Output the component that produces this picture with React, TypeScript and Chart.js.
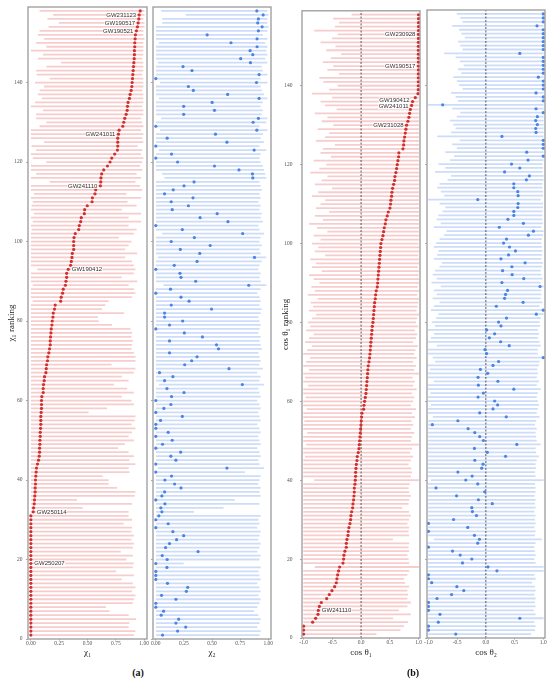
import { useEffect, useRef } from "react";
import { Chart, registerables } from "chart.js";

Chart.register(...registerables);

const SERIF = "'Liberation Serif', 'DejaVu Serif', serif";
const SANS = "'Liberation Sans', 'DejaVu Sans', sans-serif";

// ---------- data ----------
const N_EVENTS = 158;
const RANKS = Array.from({ length: N_EVENTS }, (_, i) => i + 1);
const Y_TICKS = [0, 20, 40, 60, 80, 100, 120, 140];
const CHI_TICKS = [0, 0.25, 0.5, 0.75, 1];
const COS_TICKS = [-1, -0.5, 0, 0.5, 1];

// panel (a): ranked by chi1
const CHI1 = [
  0, 0, 0, 0, 0, 0, 0, 0, 0, 0,
  0, 0, 0, 0, 0, 0, 0, 0, 0, 0,
  0, 0, 0, 0, 0, 0, 0, 0, 0, 0,
  0, 0.021, 0.024, 0.030, 0.032, 0.035, 0.038, 0.038, 0.041, 0.041,
  0.044, 0.047, 0.050, 0.059, 0.068, 0.074, 0.077, 0.077, 0.080, 0.080,
  0.083, 0.083, 0.086, 0.088, 0.088, 0.088, 0.091, 0.094, 0.094, 0.094,
  0.097, 0.109, 0.109, 0.112, 0.118, 0.121, 0.133, 0.136, 0.139, 0.147,
  0.150, 0.159, 0.165, 0.171, 0.171, 0.174, 0.177, 0.180, 0.186, 0.189,
  0.195, 0.198, 0.209, 0.215, 0.263, 0.268, 0.280, 0.286, 0.305, 0.310,
  0.316, 0.316, 0.330, 0.351, 0.357, 0.363, 0.366, 0.378, 0.378, 0.378,
  0.381, 0.392, 0.422, 0.428, 0.440, 0.445, 0.472, 0.475, 0.498, 0.540,
  0.543, 0.566, 0.572, 0.614, 0.617, 0.619, 0.625, 0.643, 0.676, 0.699,
  0.714, 0.740, 0.764, 0.767, 0.767, 0.767, 0.773, 0.779, 0.811, 0.820,
  0.829, 0.841, 0.850, 0.853, 0.858, 0.870, 0.876, 0.885, 0.891, 0.894,
  0.897, 0.900, 0.903, 0.906, 0.909, 0.912, 0.914, 0.914, 0.917, 0.917,
  0.920, 0.923, 0.932, 0.941, 0.947, 0.953, 0.956, 0.965,
];
const CHI1_LO = [
  0, 0, 0, 0, 0, 0, 0, 0, 0, 0,
  0, 0, 0, 0, 0, 0, 0, 0, 0, 0,
  0, 0, 0, 0, 0, 0, 0, 0, 0, 0,
  0, 0, 0, 0, 0, 0, 0, 0, 0, 0,
  0, 0, 0, 0, 0, 0, 0, 0, 0, 0,
  0, 0, 0, 0, 0, 0, 0, 0, 0, 0,
  0, 0, 0, 0, 0, 0, 0, 0, 0, 0,
  0, 0, 0, 0, 0, 0, 0, 0, 0, 0,
  0, 0, 0, 0, 0.02, 0, 0, 0, 0.02, 0,
  0, 0, 0.06, 0, 0, 0, 0, 0, 0, 0,
  0, 0, 0.01, 0, 0.02, 0, 0.03, 0, 0.01, 0.02,
  0, 0.03, 0, 0, 0.17, 0, 0.05, 0, 0, 0.14,
  0.02, 0, 0.05, 0.01, 0.12, 0, 0, 0, 0.08, 0.14,
  0.05, 0.05, 0.11, 0, 0.04, 0.10, 0.065, 0.08, 0.12, 0.04,
  0.17, 0.055, 0.05, 0.14, 0.27, 0.065, 0.11, 0, 0.14, 0.05,
  0.12, 0.065, 0.08, 0.16, 0.25, 0.15, 0.20, 0.08,
];
const CHI1_HI = [
  0.906, 0.92, 0.86, 0.867, 0.926, 0.86, 0.69, 0.66, 0.897, 0.906,
  0.92, 0.89, 0.92, 0.897, 0.80, 0.906, 0.75, 0.897, 0.906, 0.84,
  0.897, 0.79, 0.897, 0.906, 0.885, 0.906, 0.885, 0.89, 0.817, 0.89,
  0.86, 0.86, 0.454, 0.89, 0.404, 0.914, 0.92, 0.758, 0.684, 0.684,
  0.63, 0.867, 0.86, 0.92, 0.867, 0.906, 0.86, 0.767, 0.826, 0.906,
  0.86, 0.89, 0.92, 0.885, 0.914, 0.92, 0.507, 0.67, 0.906, 0.885,
  0.80, 0.906, 0.847, 0.73, 0.86, 0.80, 0.906, 0.92, 0.71, 0.92,
  0.92, 0.906, 0.885, 0.89, 0.897, 0.885, 0.89, 0.876, 0.714, 0.596,
  0.59, 0.82, 0.625, 0.655, 0.684, 0.89, 0.92, 0.906, 0.86, 0.935,
  0.80, 0.906, 0.92, 0.906, 0.89, 0.83, 0.935, 0.83, 0.86, 0.885,
  0.773, 0.906, 0.93, 0.86, 0.97, 0.86, 0.97, 0.80, 0.93, 0.85,
  0.97, 0.84, 0.98, 0.96, 0.92, 0.97, 0.93, 0.98, 0.96, 0.98,
  0.99, 0.97, 0.98, 0.94, 0.99, 0.98, 0.99, 0.97, 0.99, 0.98,
  0.97, 0.99, 0.99, 0.98, 0.99, 0.99, 0.99, 0.98, 0.99, 0.99,
  0.99, 0.98, 0.99, 0.99, 0.99, 0.98, 0.99, 0.99, 0.99, 0.99,
  1.0, 0.99, 0.99, 1.0, 1.0, 0.99, 1.0, 1.0,
];
const CHI2 = [
  0.060, 0.194, 0.266, 0.179, 0.203, 0.048, 0.069, 0, 0, 0.179,
  0.051, 0.272, 0.284, 0.104, 0, 0, 0, 0.099, 0, 0.101,
  0.057, 0.376, 0.087, 0.122, 0.185, 0.248, 0.152, 0, 0.110, 0,
  0.027, 0.054, 0.045, 0.081, 0, 0.054, 0.078, 0.224, 0.167, 0.081,
  0.140, 0, 0.633, 0, 0.179, 0.134, 0.221, 0, 0.060, 0.146,
  0, 0.110, 0, 0, 0.042, 0.236, 0, 0.072, 0.134, 0,
  0.140, 0.251, 0.099, 0.770, 0.078, 0.152, 0.033, 0.651, 0.257, 0.319,
  0.367, 0.122, 0.558, 0.540, 0.122, 0.415, 0.254, 0, 0.122, 0.239,
  0.078, 0.078, 0.496, 0.137, 0.296, 0.224, 0, 0.131, 0.827, 0.355,
  0.224, 0.215, 0, 0.164, 0.367, 0.878, 0.391, 0.218, 0.484, 0.137,
  0.343, 0.773, 0.236, 0, 0.642, 0.394, 0.546, 0.146, 0.290, 0.137,
  0.331, 0.078, 0.155, 0.251, 0.340, 0.863, 0.860, 0.740, 0.522, 0.194,
  0, 0.140, 0.875, 0, 0.633, 0.101, 0.531, 0.899, 0, 0.866,
  0.913, 0.248, 0.522, 0.248, 0.501, 0.919, 0.639, 0.334, 0.290, 0.896,
  0, 0.919, 0.322, 0.242, 0.842, 0.755, 0.863, 0.839, 0.901, 0.669,
  0.901, 0.457, 0.913, 0.946, 0.907, 0.913, 0.955, 0.899,
];
const CHI2_LO = [
  0, 0, 0, 0, 0, 0, 0, 0, 0, 0,
  0, 0, 0, 0, 0, 0, 0, 0, 0, 0,
  0, 0, 0, 0, 0, 0, 0, 0, 0, 0,
  0, 0, 0, 0, 0, 0, 0, 0, 0, 0,
  0, 0, 0.02, 0, 0, 0, 0, 0, 0, 0,
  0, 0, 0, 0, 0, 0, 0, 0, 0, 0,
  0, 0, 0, 0.03, 0, 0, 0, 0, 0, 0,
  0, 0, 0, 0, 0, 0, 0, 0, 0, 0,
  0, 0, 0, 0, 0, 0, 0, 0, 0.07, 0,
  0, 0, 0, 0, 0, 0.02, 0, 0, 0, 0,
  0, 0.06, 0, 0, 0, 0, 0, 0, 0, 0,
  0, 0, 0, 0, 0, 0.08, 0.06, 0, 0, 0,
  0, 0, 0.03, 0, 0, 0, 0, 0.04, 0, 0,
  0.05, 0, 0, 0, 0, 0.03, 0, 0, 0, 0.04,
  0, 0, 0, 0, 0.02, 0, 0, 0, 0, 0.03,
  0, 0, 0, 0, 0.06, 0.06, 0.27, 0.05,
];
const CHI2_HI = [
  0.92, 0.93, 0.90, 0.92, 0.93, 0.91, 0.87, 0.90, 0.92, 0.93,
  0.91, 0.93, 0.92, 0.90, 0.93, 0.92, 0.91, 0.93, 0.245, 0.92,
  0.93, 0.90, 0.92, 0.93, 0.91, 0.92, 0.93, 0.90, 0.92, 0.91,
  0.93, 0.336, 0.60, 0.92, 0.70, 0.93, 0.92, 0.93, 0.91, 0.92,
  0.93, 0.79, 0.96, 0.92, 0.91, 0.93, 0.92, 0.90, 0.93, 0.92,
  0.91, 0.93, 0.92, 0.90, 0.93, 0.92, 0.91, 0.93, 0.92, 0.90,
  0.93, 0.92, 0.91, 0.96, 0.92, 0.93, 0.90, 0.95, 0.92, 0.93,
  0.92, 0.91, 0.94, 0.93, 0.92, 0.93, 0.91, 0.92, 0.93, 0.92,
  0.91, 0.93, 0.94, 0.92, 0.93, 0.92, 0.90, 0.93, 0.98, 0.93,
  0.92, 0.93, 0.91, 0.92, 0.94, 0.98, 0.93, 0.92, 0.94, 0.92,
  0.93, 0.96, 0.92, 0.91, 0.95, 0.93, 0.94, 0.92, 0.93, 0.91,
  0.93, 0.92, 0.94, 0.93, 0.92, 0.98, 0.97, 0.96, 0.95, 0.93,
  0.92, 0.93, 0.98, 0.92, 0.96, 0.93, 0.95, 0.99, 0.92, 0.98,
  0.99, 0.94, 0.95, 0.93, 0.95, 0.99, 0.96, 0.94, 0.93, 0.99,
  0.93, 0.99, 0.95, 0.94, 0.99, 0.97, 0.99, 0.98, 0.99, 0.97,
  0.99, 0.95, 0.99, 1.0, 0.99, 0.99, 1.0, 0.99,
];

// panel (b): ranked by cos(theta1)
const COS1 = [
  -1.0, -1.0, -1.0, -0.843, -0.791, -0.750, -0.744, -0.727, -0.692, -0.599,
  -0.553, -0.507, -0.460, -0.431, -0.420, -0.408, -0.391, -0.373, -0.315, -0.304,
  -0.298, -0.281, -0.257, -0.257, -0.246, -0.228, -0.223, -0.211, -0.194, -0.182,
  -0.176, -0.165, -0.147, -0.141, -0.130, -0.124, -0.118, -0.118, -0.107, -0.101,
  -0.095, -0.095, -0.089, -0.083, -0.072, -0.067, -0.049, -0.037, -0.031, -0.026,
  -0.020, -0.014, -0.008, -0.002, 0.003, 0.009, 0.015, 0.044, 0.050, 0.061,
  0.073, 0.085, 0.090, 0.096, 0.102, 0.108, 0.114, 0.119, 0.125, 0.137,
  0.148, 0.154, 0.160, 0.166, 0.171, 0.177, 0.183, 0.189, 0.195, 0.206,
  0.212, 0.218, 0.224, 0.230, 0.235, 0.247, 0.253, 0.264, 0.282, 0.288,
  0.293, 0.299, 0.305, 0.311, 0.317, 0.322, 0.328, 0.334, 0.340, 0.345,
  0.363, 0.380, 0.392, 0.403, 0.421, 0.432, 0.455, 0.473, 0.502, 0.513,
  0.519, 0.531, 0.537, 0.548, 0.566, 0.583, 0.589, 0.606, 0.618, 0.629,
  0.641, 0.653, 0.658, 0.728, 0.740, 0.745, 0.757, 0.769, 0.780, 0.792,
  0.815, 0.832, 0.844, 0.856, 0.879, 0.896, 0.943, 0.990, 0.995, 0.995,
  0.996, 0.996, 0.996, 0.997, 0.997, 0.997, 0.997, 0.997, 0.997, 0.997,
  0.997, 0.998, 0.998, 0.998, 0.999, 0.999, 1.0, 1.0,
];
const COS1_LO = [
  -1, -1, -1, -1, -1, -1, -1, -1, -1, -1,
  -1, -1, -1, -1, -1, -1, -1, -0.80, -1, -1,
  -1, -1, -1, -1, -1, -1, -1, -1, -1, -1,
  -1, -1, -1, -1, -1, -1, -1, -1, -1, -0.81,
  -1, -1, -1, -1, -1, -0.97, -1, -1, -0.95, -1,
  -1, -0.93, -1, -1, -0.98, -1, -1, -0.94, -1, -1,
  -0.96, -1, -1, -0.92, -1, -0.97, -1, -0.90, -1, -0.95,
  -0.88, -1, -0.93, -0.85, -0.97, -0.90, -0.82, -0.95, -0.88, -0.92,
  -0.85, -0.78, -0.90, -0.83, -0.87, -0.75, -0.92, -0.80, -0.86, -0.72,
  -0.82, -0.90, -0.68, -0.85, -0.78, -0.88, -0.62, -0.80, -0.74, -0.85,
  -0.70, -0.82, -0.58, -0.76, -0.90, -0.66, -0.80, -0.55, -0.78, -0.70,
  -0.62, -0.85, -0.74, -0.50, -0.80, -0.68, -0.58, -0.88, -0.72, -0.60,
  -0.82, -0.52, -0.70, -0.66, -0.45, -0.78, -0.62, -0.55, -0.75, -0.48,
  -0.68, -0.58, -0.80, -0.42, -0.62, -0.70, -0.50, -0.85, -0.55, -0.40,
  -0.65, -0.72, -0.38, -0.58, -0.48, -0.66, -0.52, -0.34, -0.60, -0.44,
  -0.70, -0.50, -0.40, -0.81, -0.45, -0.38, -0.48, -0.16,
];
const COS1_HI = [
  0.26, 0.68, 0.74, 0.81, 0.55, 0.86, 0.65, 0.80, 0.86, 0.80,
  0.81, 0.80, 0.83, 0.76, 0.74, 0.80, 0.83, 1.0, 0.83, 0.82,
  0.80, 0.83, 0.82, 0.83, 0.55, 0.83, 0.82, 0.83, 0.80, 0.83,
  0.86, 0.83, 0.71, 0.82, 0.83, 0.86, 0.83, 0.82, 0.84, 1.0,
  0.86, 0.88, 0.87, 0.82, 0.86, 0.90, 0.85, 0.88, 1.0, 0.86,
  0.88, 0.92, 0.86, 0.90, 0.87, 0.93, 0.88, 0.95, 0.86, 0.90,
  0.92, 0.88, 0.96, 0.90, 0.93, 0.89, 1.0, 0.92, 0.95, 0.90,
  0.96, 0.92, 0.94, 0.98, 0.90, 0.95, 0.97, 0.93, 0.99, 0.95,
  0.97, 1.0, 0.96, 0.98, 0.99, 1.0, 0.97, 1.0, 0.98, 1.0,
  1.0, 0.99, 1.0, 0.98, 1.0, 1.0, 0.99, 1.0, 1.0, 0.99,
  1.0, 1.0, 1.0, 1.0, 1.0, 1.0, 1.0, 1.0, 1.0, 1.0,
  1.0, 1.0, 1.0, 1.0, 1.0, 1.0, 1.0, 1.0, 1.0, 1.0,
  1.0, 1.0, 1.0, 1.0, 1.0, 1.0, 1.0, 1.0, 1.0, 1.0,
  1.0, 1.0, 1.0, 1.0, 1.0, 1.0, 1.0, 1.0, 1.0, 1.0,
  1.0, 1.0, 1.0, 1.0, 1.0, 1.0, 1.0, 1.0, 1.0, 1.0,
  1.0, 1.0, 1.0, 1.0, 1.0, 1.0, 1.0, 1.0,
];
const COS2 = [
  -0.524, -1.0, -1.0, -0.828, 0.591, -0.799, -1.0, -1.0, -1.0, -0.851,
  -0.597, -0.384, -0.505, -0.943, -1.0, -1.0, 0.193, 0.037, -0.407, -0.245,
  -0.447, -0.580, -1.0, -0.141, -0.112, -0.199, -1.0, -0.315, -1.0, -0.562,
  -0.164, -0.234, -0.245, 0.112, -0.130, -0.510, -0.020, -0.868, -0.141, -0.349,
  -0.239, -0.487, -0.072, -0.049, -0.193, 0.343, 0.026, -0.199, 0.539, -0.043,
  -0.107, -0.193, -0.309, -0.932, -0.487, 0.355, -0.107, 0.124, 0.205, 0.153,
  -0.136, -0.043, 0.487, -0.130, 0.210, -0.136, 0.032, -0.095, 0.124, 0.222,
  1.0, 0.014, -0.014, 0.407, 0.257, 0.061, 0.153, 0.014, 0.263, 0.222,
  0.360, 0.879, 1.0, 0.182, 0.649, 0.326, 0.343, 0.378, 0.943, 0.280,
  0.660, 0.458, 0.291, 0.453, 0.683, 0.263, 0.395, 0.516, 0.412, 0.309,
  0.360, 0.741, 0.828, 0.234, 0.654, 0.384, 0.487, 0.487, 0.556, 0.562,
  -0.141, 0.562, 0.556, 0.487, 0.487, 0.706, 0.758, 0.326, 0.591, 0.447,
  0.735, 1.0, 0.712, 1.0, 1.0, 1.0, 0.280, 0.874, 0.868, 0.897,
  0.868, 0.897, 1.0, 0.874, -0.752, 1.0, 1.0, 0.874, 1.0, 1.0,
  1.0, 0.914, 1.0, 1.0, 1.0, 1.0, 1.0, 0.591, 1.0, 1.0,
  1.0, 1.0, 1.0, 1.0, 0.891, 1.0, 1.0, 1.0,
];
const COS2_LO = [
  -1, -1, -1, -1, -1, -1, -1, -1, -1, -1,
  -1, -1, -1, -1, -1, -1, -1, -1, -1, -1,
  -1, -1, -1, -1, -0.9, -1, -1, -1, -1, -1,
  -1, -1, -1, -1, -1, -1, -1, -1, -1, -0.95,
  -1, -1, -1, -1, -1, -1, -1, -1, -1, -1,
  -1, -1, -1, -1, -1, -0.92, -1, -1, -0.95, -1,
  -1, -0.96, -1, -1, -0.9, -1, -1, -0.97, -1, -0.88,
  -0.92, -1, -1, -0.85, -1, -0.95, -0.9, -1, -0.88, -0.93,
  -0.86, -0.82, -0.95, -0.9, -0.8, -0.92, -0.85, -0.9, -0.78, -0.94,
  -0.85, -0.92, -0.88, -0.8, -0.76, -0.9, -0.84, -0.82, -0.9, -0.86,
  -0.8, -0.72, -0.68, -0.9, -0.78, -0.85, -0.82, -0.75, -0.7, -0.8,
  -1, -0.72, -0.78, -0.84, -0.8, -0.66, -0.6, -0.88, -0.7, -0.82,
  -0.62, -0.55, -0.7, -0.5, -0.58, -0.45, -0.84, -0.6, -0.52, -0.56,
  -0.62, -0.5, -0.44, -0.58, -1, -0.48, -0.52, -0.6, -0.4, -0.46,
  -0.5, -0.56, -0.42, -0.48, -0.38, -0.45, -0.52, -0.72, -0.4, -0.44,
  -0.48, -0.36, -0.42, -0.46, -0.58, -0.4, -0.44, -0.5,
];
const COS2_HI = [
  0.78, 0.85, 0.86, 0.84, 1.0, 0.86, 0.83, 0.86, 0.85, 0.86,
  0.84, 0.86, 0.85, 0.80, 0.86, 0.84, 1.0, 1.0, 0.86, 0.84,
  0.86, 0.85, 0.84, 0.86, 0.97, 0.85, 0.86, 0.84, 0.86, 0.85,
  0.86, 0.84, 0.86, 0.85, 0.86, 0.84, 0.86, 0.86, 0.85, 1.0,
  0.86, 0.85, 0.87, 0.86, 0.88, 0.92, 0.87, 0.86, 0.95, 0.88,
  0.87, 0.86, 0.88, 0.85, 0.87, 0.93, 0.88, 0.9, 0.92, 0.9,
  0.88, 0.9, 0.95, 0.88, 0.92, 0.88, 0.9, 0.89, 0.92, 0.93,
  1.0, 0.9, 0.9, 0.95, 0.93, 0.9, 0.92, 0.9, 0.94, 0.93,
  0.95, 1.0, 1.0, 0.93, 0.98, 0.95, 0.96, 0.96, 1.0, 0.95,
  0.98, 0.96, 0.95, 0.97, 0.99, 0.96, 0.97, 0.98, 0.97, 0.96,
  0.97, 0.99, 1.0, 0.96, 0.99, 0.98, 0.98, 0.98, 0.99, 0.99,
  0.95, 0.99, 0.99, 0.98, 0.98, 1.0, 1.0, 0.98, 0.99, 0.98,
  1.0, 1.0, 1.0, 1.0, 1.0, 1.0, 1.0, 1.0, 1.0, 1.0,
  1.0, 1.0, 1.0, 1.0, 1.0, 1.0, 1.0, 1.0, 1.0, 1.0,
  1.0, 1.0, 1.0, 1.0, 1.0, 1.0, 1.0, 1.0, 1.0, 1.0,
  1.0, 1.0, 1.0, 1.0, 1.0, 1.0, 1.0, 1.0,
];

type GWLabel = { name: string; rank: number; side: "left" | "right"; dy?: number };

const LABELS_A: GWLabel[] = [
  { name: "GW231123", rank: 157, side: "left" },
  { name: "GW190517", rank: 155, side: "left" },
  { name: "GW190521", rank: 153, side: "left" },
  { name: "GW241011", rank: 127, side: "left" },
  { name: "GW241110", rank: 114, side: "left" },
  { name: "GW190412", rank: 93, side: "right" },
  { name: "GW250114", rank: 32, side: "right" },
  { name: "GW250207", rank: 19, side: "right" },
];
const LABELS_B: GWLabel[] = [
  { name: "GW230928", rank: 153, side: "left" },
  { name: "GW190517", rank: 145, side: "left" },
  { name: "GW190412", rank: 136, side: "left", dy: -1 },
  { name: "GW241011", rank: 135, side: "left", dy: 1 },
  { name: "GW231028", rank: 130, side: "left" },
  { name: "GW241110", rank: 7, side: "right" },
];

// ---------- styling ----------
const RED = "#d42f2f";
const RED_LINE = "rgb(247, 204, 204)";
const BLUE = "#4a84e6";
const BLUE_LINE = "rgb(205, 220, 248)";

type PanelCfg = {
  left: number;
  width: number;
  height: number;
  padTop: number;
  padRight: number;
  yAxisWidth: number;
  xAxisHeight: number;
  yLabels: boolean;
  yTickPad: number;
  yTitle?: string;
  yTitlePad?: number;
  xTitle: string;
  xTitlePad: number;
  xMin: number;
  xMax: number;
  xTicks: number[];
  xDecimals: number;
  values: number[];
  lo: number[];
  hi: number[];
  pointColor: string;
  lineColor: string;
  labels?: GWLabel[];
  zeroLine?: boolean;
};

function framePlugin() {
  return {
    id: "frame",
    afterDatasetsDraw(chart: any) {
      const { ctx, chartArea: a } = chart;
      ctx.save();
      ctx.strokeStyle = "#9a9a9a";
      ctx.lineWidth = 1.3;
      ctx.strokeRect(a.left, a.top, a.right - a.left, a.bottom - a.top);
      ctx.restore();
    },
  };
}

function labelPlugin(labels: GWLabel[], values: number[]) {
  return {
    id: "gwLabels",
    afterDatasetsDraw(chart: any) {
      const { ctx, scales } = chart;
      ctx.save();
      ctx.font = `6px ${SANS}`;
      ctx.textBaseline = "middle";
      ctx.textAlign = "left";
      for (const l of labels) {
        const idx = RANKS.indexOf(l.rank);
        const px = scales.x.getPixelForValue(values[idx]);
        const py = scales.y.getPixelForValue(l.rank) + (l.dy || 0);
        const w = ctx.measureText(l.name).width;
        const x0 = l.side === "left" ? px - 3 - w : px + 3.5;
        ctx.fillStyle = "rgba(255,255,255,0.85)";
        ctx.fillRect(x0 - 0.5, py - 3, w + 1, 6);
        ctx.fillStyle = "#333";
        ctx.fillText(l.name, x0, py + 0.3);
      }
      ctx.restore();
    },
  };
}

function Panel({ cfg }: { cfg: PanelCfg }) {
  const ref = useRef<HTMLCanvasElement>(null);
  useEffect(() => {
    const canvas = ref.current;
    if (!canvas) return;
    const points = cfg.values.map((v, i) => ({ x: v, y: RANKS[i] }));
    const bars = cfg.lo.map((l, i) => ({ x: [l, cfg.hi[i]], y: RANKS[i] }));
    const datasets: any[] = [
      {
        type: "scatter",
        data: points,
        pointRadius: 1.6,
        pointHoverRadius: 1.6,
        pointBackgroundColor: cfg.pointColor,
        pointBorderWidth: 0,
        borderWidth: 0,
        order: 0,
      },
      {
        type: "bar",
        indexAxis: "y",
        data: bars,
        backgroundColor: cfg.lineColor,
        borderWidth: 0,
        barThickness: 1.1,
        order: 2,
      },
    ];
    if (cfg.zeroLine) {
      datasets.push({
        type: "line",
        data: [
          { x: 0, y: 0 },
          { x: 0, y: 159 },
        ],
        borderColor: "#333",
        borderWidth: 0.8,
        borderDash: [2, 1.5],
        pointRadius: 0,
        order: 1,
      });
    }
    const plugins: any[] = [framePlugin()];
    if (cfg.labels) plugins.push(labelPlugin(cfg.labels, cfg.values));
    const chart = new Chart(canvas, {
      type: "scatter",
      data: { datasets },
      options: {
        responsive: false,
        animation: false,
        events: [],
        layout: { padding: { top: cfg.padTop, right: cfg.padRight, left: 0, bottom: 0 } },
        plugins: { legend: { display: false }, tooltip: { enabled: false } },
        scales: {
          x: {
            type: "linear",
            min: cfg.xMin,
            max: cfg.xMax,
            offset: false,
            afterFit: (s: any) => {
              s.height = cfg.xAxisHeight;
            },
            afterBuildTicks: (s: any) => {
              s.ticks = cfg.xTicks.map((v) => ({ value: v }));
            },
            ticks: {
              autoSkip: false,
              maxRotation: 0,
              padding: 0,
              color: "#555",
              font: { family: SERIF, size: 5.5 },
              callback: (v: any) => Number(v).toFixed(cfg.xDecimals),
            },
            grid: { display: true, offset: false, drawOnChartArea: false, drawTicks: true, tickLength: 1.5, tickColor: "#888", tickWidth: 0.7 },
            border: { display: false },
            title: {
              display: true,
              text: cfg.xTitle,
              color: "#222",
              font: { family: SERIF, size: 9 },
              padding: { top: 0, bottom: cfg.xTitlePad },
            },
          },
          y: {
            type: "linear",
            min: 0,
            max: 159,
            offset: false,
            afterFit: (s: any) => {
              s.width = cfg.yAxisWidth;
            },
            afterBuildTicks: (s: any) => {
              s.ticks = Y_TICKS.map((v) => ({ value: v }));
            },
            ticks: {
              display: cfg.yLabels,
              autoSkip: false,
              padding: cfg.yTickPad,
              color: "#555",
              font: { family: SERIF, size: 5.5 },
            },
            grid: { display: true, offset: false, drawOnChartArea: false, drawTicks: true, tickLength: 2, tickColor: "#888", tickWidth: 0.7 },
            border: { display: false },
            title: cfg.yTitle
              ? {
                  display: true,
                  text: cfg.yTitle,
                  color: "#222",
                  font: { family: SERIF, size: 9 },
                  padding: { top: cfg.yTitlePad ?? 0, bottom: 0 },
                }
              : { display: false },
          },
        },
      } as any,
      plugins,
    });
    return () => chart.destroy();
  }, [cfg]);
  return (
    <canvas
      ref={ref}
      width={cfg.width}
      height={cfg.height}
      style={{ position: "absolute", left: cfg.left, top: 0, width: cfg.width, height: cfg.height }}
    />
  );
}

const H = 664;

const PANELS: PanelCfg[] = [
  {
    left: 0, width: 160, height: H, padTop: 7, padRight: 13, yAxisWidth: 28, xAxisHeight: 25,
    yLabels: true, yTickPad: 3.5, yTitle: "χ₁ ranking", yTitlePad: 6.3, xTitle: "χ₁", xTitlePad: 5.6,
    xMin: -0.025, xMax: 1.025, xTicks: CHI_TICKS, xDecimals: 2,
    values: CHI1, lo: CHI1_LO, hi: CHI1_HI, pointColor: RED, lineColor: RED_LINE, labels: LABELS_A,
  },
  {
    left: 148, width: 136, height: H, padTop: 7, padRight: 13, yAxisWidth: 5, xAxisHeight: 25,
    yLabels: false, yTickPad: 0, xTitle: "χ₂", xTitlePad: 5.6,
    xMin: -0.025, xMax: 1.025, xTicks: CHI_TICKS, xDecimals: 2,
    values: CHI2, lo: CHI2_LO, hi: CHI2_HI, pointColor: BLUE, lineColor: BLUE_LINE,
  },
  {
    left: 274, width: 158, height: H, padTop: 10, padRight: 12, yAxisWidth: 28, xAxisHeight: 26,
    yLabels: true, yTickPad: 7.5, yTitle: "cos θ₁ ranking", yTitlePad: 6.6, xTitle: "cos θ₁", xTitlePad: 6.3,
    xMin: -1.028, xMax: 1.025, xTicks: COS_TICKS, xDecimals: 1,
    values: COS1, lo: COS1_LO, hi: COS1_HI, pointColor: RED, lineColor: RED_LINE, labels: LABELS_B, zeroLine: true,
  },
  {
    left: 422, width: 128, height: H, padTop: 10, padRight: 5, yAxisWidth: 5, xAxisHeight: 26,
    yLabels: false, yTickPad: 0, xTitle: "cos θ₂", xTitlePad: 6.3,
    xMin: -1.025, xMax: 1.03, xTicks: COS_TICKS, xDecimals: 1,
    values: COS2, lo: COS2_LO, hi: COS2_HI, pointColor: BLUE, lineColor: BLUE_LINE, zeroLine: true,
  },
];

export default function App() {
  return (
    <div
      style={{
        position: "absolute",
        left: 0,
        top: 0,
        width: 550,
        height: 682,
        background: "#fff",
        overflow: "hidden",
      }}
    >
      {PANELS.map((p, i) => (
        <Panel key={i} cfg={p} />
      ))}
      <div
        style={{
          position: "absolute",
          left: 138,
          top: 672,
          transform: "translate(-50%, -50%)",
          fontFamily: SERIF,
          fontWeight: "bold",
          fontSize: 10,
          color: "#111",
        }}
      >
        (a)
      </div>
      <div
        style={{
          position: "absolute",
          left: 413,
          top: 672,
          transform: "translate(-50%, -50%)",
          fontFamily: SERIF,
          fontWeight: "bold",
          fontSize: 10,
          color: "#111",
        }}
      >
        (b)
      </div>
    </div>
  );
}
